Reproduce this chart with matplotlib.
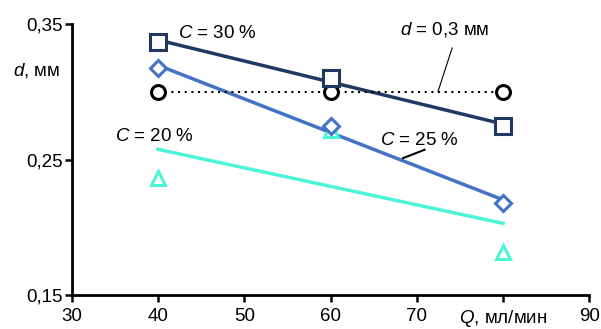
import numpy as np
import matplotlib
matplotlib.use("Agg")
import matplotlib.pyplot as plt

plt.rcParams['font.family'] = ['Liberation Sans', 'DejaVu Sans']
plt.rcParams['mathtext.fontset'] = 'custom'
plt.rcParams['mathtext.rm'] = 'Liberation Sans'
plt.rcParams['mathtext.it'] = 'Liberation Sans:italic'

Q = [40, 60, 80]
d_c30 = [0.3366, 0.3104, 0.2746]
d_c25 = [0.3172, 0.2746, 0.2179]
d_c20 = [0.2366, 0.2720, 0.1820]
d_ref = [0.30, 0.30, 0.30]

xticks = [30, 40, 50, 60, 70, 80, 90]
xticklabels = ['30', '40', '50', '60', '70', '$Q$, мл/мин', '90']
yticks = [0.15, 0.25, 0.35]
yticklabels = ['0,15', '0,25', '0,35']

col30 = '#203864'
col25 = '#4472C4'
col20 = '#4CF5D6'

fig = plt.figure(figsize=(6.01, 3.29), dpi=100)
ax = fig.add_axes([0.1195, 0.1033, 0.8610, 0.8237])

Qa = np.array(Q, dtype=float)
for y, c in [(d_c20, col20), (d_c25, col25), (d_c30, col30)]:
    p = np.polyfit(Qa, y, 1)
    ax.plot(Qa[[0, -1]], np.polyval(p, Qa[[0, -1]]), color=c, lw=2.5, zorder=2)

ax.plot(Q, d_ref, color='black', lw=1.5, ls=(0, (1, 2.2)), zorder=2)

ms_kw = dict(ls='none', markerfacecolor='white', markeredgewidth=2.2, zorder=4)
ax.plot(Q, d_c20, marker='^', ms=10, markeredgecolor=col20, **ms_kw)
ax.plot(Q, d_ref, marker='o', ms=10, markeredgecolor='black', **ms_kw)
ax.plot(Q, d_c25, marker='D', ms=8.5, markeredgecolor=col25, **ms_kw)
ax.plot(Q, d_c30, marker='s', ms=11, markeredgecolor=col30, **ms_kw)

ax.set_xlim(30, 90)
ax.set_ylim(0.15, 0.35)
ax.set_xticks(xticks)
ax.set_xticklabels(xticklabels)
ax.set_yticks(yticks)
ax.set_yticklabels(yticklabels)
for s in ['top', 'right']:
    ax.spines[s].set_visible(False)
for s in ['left', 'bottom']:
    ax.spines[s].set_linewidth(2)
ax.tick_params(direction='out', length=5, width=1.8, labelsize=13.5)
ax.tick_params(axis='x', pad=4)
ax.tick_params(axis='y', pad=1.5)
ax.patch.set_visible(False)
for lab in ax.get_yticklabels() + ax.get_xticklabels():
    lab.set_clip_on(False)

fs = 13.5
ax.text(42.3, 0.3433, '$C$ = 30 %', fontsize=fs, ha='left', va='center')
ax.text(35.0, 0.2672, '$C$ = 20 %', fontsize=fs, ha='left', va='center')
ax.text(65.7, 0.2638, '$C$ = 25 %', fontsize=fs, ha='left', va='center')
ax.text(73.2, 0.3463, '$d$ = 0,3 мм', fontsize=fs, ha='center', va='center')
ax.plot([74.1, 72.45], [0.3323, 0.3000], color='black', lw=0.8, zorder=3)
ax.plot([70.9, 68.4], [0.2572, 0.2510], color='black', lw=1.5, zorder=3)

fig.text(13 / 601, 1 - 70 / 329, '$d$, мм', fontsize=fs, ha='left', va='center')

fig.savefig('out.png', dpi=100)
